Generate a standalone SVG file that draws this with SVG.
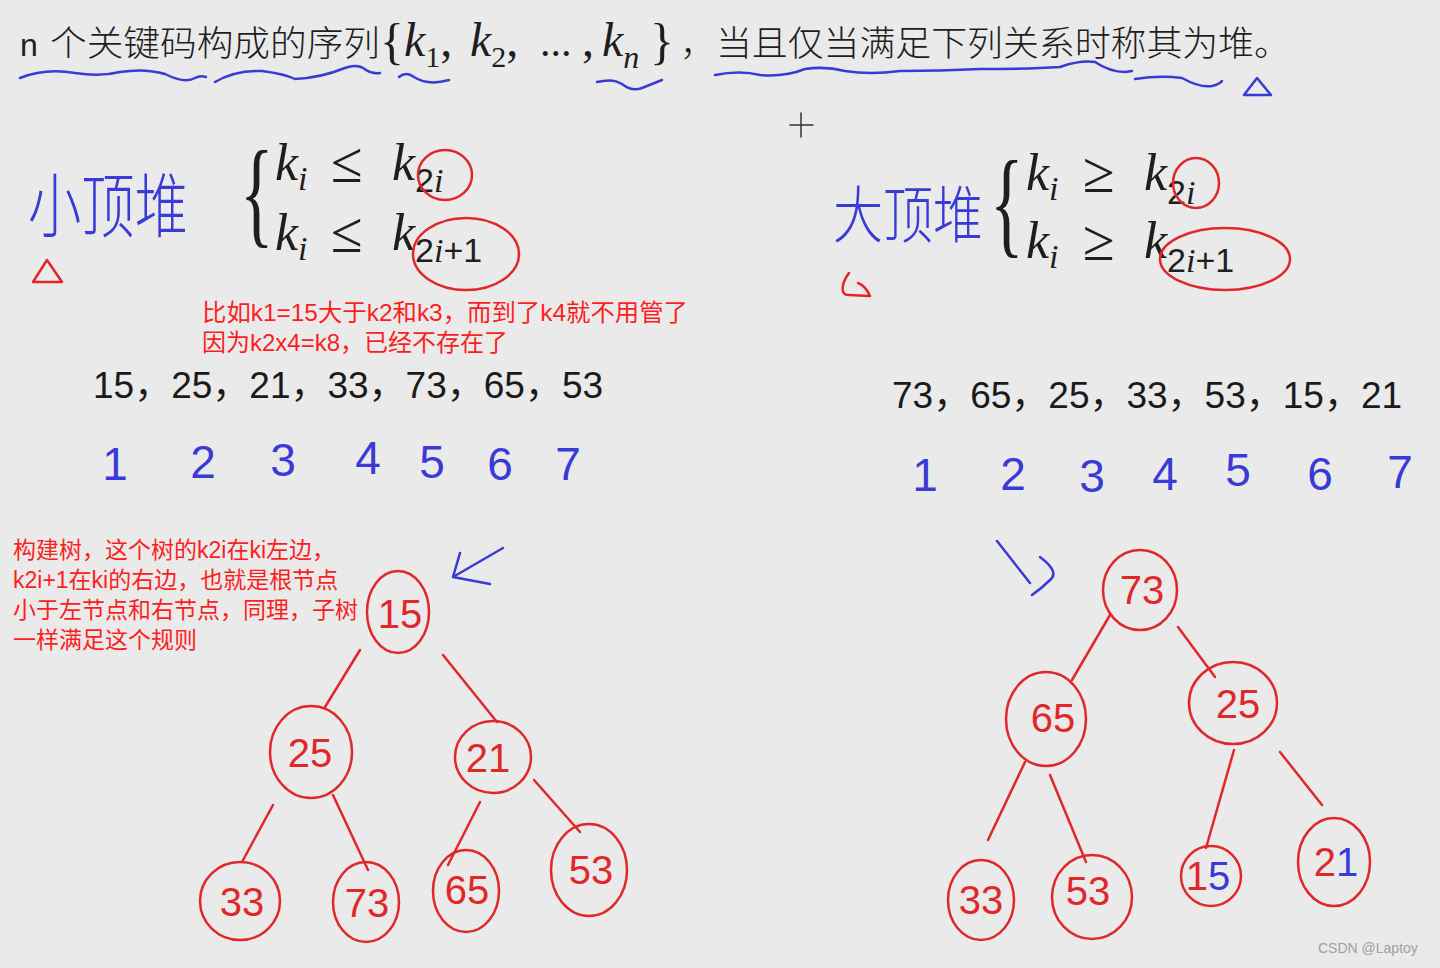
<svg xmlns="http://www.w3.org/2000/svg" width="1440" height="968" viewBox="0 0 1440 968">
<style>
.bg{fill:#eaeaea}
.cn{font-family:"Noto Sans CJK SC","Noto Sans",sans-serif;fill:#1e1e1e;font-weight:300}
.mi{font-family:"Liberation Serif","DejaVu Serif",serif;font-style:italic;fill:#1e1e1e}
.mr{font-family:"Liberation Serif","DejaVu Serif",serif;fill:#1e1e1e}
.sub{font-family:"Liberation Sans","Noto Sans",sans-serif;font-style:normal}
.sub2{font-family:"Liberation Serif","DejaVu Serif",serif;font-style:italic}
.sub3{font-family:"Liberation Serif","DejaVu Serif",serif;font-style:normal}
.seq{font-family:"Liberation Sans",Arial,"Noto Sans CJK SC",sans-serif;fill:#1a1a1a;font-size:37px}
.note{font-family:"Liberation Sans",Arial,"Noto Sans CJK SC",sans-serif;fill:#ff1e1e}
.hb{font-family:"Noto Sans CJK SC","Liberation Sans",sans-serif;fill:#3a3ad6;font-weight:300}
.hd{font-family:"Liberation Sans","Noto Sans",sans-serif;fill:#3a3ad6;font-size:46px;text-anchor:middle}
.bl{fill:none;stroke:#3a3ad6;stroke-width:2.5;stroke-linecap:round;stroke-linejoin:round}
.rl{fill:none;stroke:#e0282a;stroke-width:2.5;stroke-linecap:round;stroke-linejoin:round}
.node{fill:none;stroke:#e0282a;stroke-width:2.5}
.nl{font-family:"Liberation Sans","Noto Sans",sans-serif;fill:#e0282a;font-size:40px;text-anchor:middle}
.edge{fill:none;stroke:#e0282a;stroke-width:2.5;stroke-linecap:round}
</style>
<rect class="bg" x="0" y="0" width="1440" height="968"/>

<g id="title">
  <text class="sub" x="20" y="56" font-size="32" fill="#1e1e1e">n</text>
  <text class="cn" x="50" y="56" font-size="35" textLength="330" lengthAdjust="spacingAndGlyphs">个关键码构成的序列</text>
  <text class="mr" y="56" font-size="48"><tspan x="380" y="58" font-size="50">{</tspan><tspan x="404" y="56" class="sub2">k</tspan><tspan y="67" font-size="30">1</tspan><tspan y="56">,</tspan><tspan x="470" class="sub2">k</tspan><tspan y="67" font-size="30">2</tspan><tspan y="56">,</tspan><tspan x="540" font-size="42">...</tspan><tspan x="582" font-size="48">,</tspan><tspan x="602" class="sub2">k</tspan><tspan y="68" font-size="32" class="sub2">n</tspan><tspan x="650" y="58" font-size="50">}</tspan></text>
  <text class="cn" x="680" y="56" font-size="35" textLength="610" lengthAdjust="spacingAndGlyphs">，当且仅当满足下列关系时称其为堆。</text>
  <path class="bl" d="M20,78 Q45,68 75,73 Q100,77 120,72 Q145,68 165,74 Q185,84 195,78 Q200,75 206,77"/>
  <path class="bl" d="M215,82 Q235,70 262,71 Q285,74 295,79 Q320,78 345,68 Q358,63 366,70 Q372,74 380,73"/>
  <path class="bl" d="M399,77 Q406,71 414,77 Q428,86 449,80"/>
  <path class="bl" d="M597,82 Q613,78 622,84 Q632,92 642,88 Q652,84 662,80"/>
  <path class="bl" d="M715,75 Q740,70 760,75 Q785,77 805,69 Q825,66 845,71 Q870,75 900,71 Q940,71 980,69 Q1030,69 1060,67 Q1080,60 1095,62 Q1110,72 1125,72 L1132,71"/>
  <path class="bl" d="M1135,79 Q1160,75 1182,78 Q1200,88 1212,86 Q1220,84 1222,81"/>
  <path class="bl" d="M1257,78 L1244,95 L1271,95 Z"/>
</g>

<path class="bl" d="M790,125 L813,125 M801,113 L801,137" style="stroke:#333;stroke-width:1.5"/>

<g id="min-heap-formula">
  <text class="mr" font-size="70" transform="translate(240,232) scale(1,1.7)">{</text>
  <text class="mi" font-size="52"><tspan x="275" y="180">k</tspan><tspan y="190" font-size="34">i</tspan><tspan x="331" y="182" class="sub3" font-size="58">≤</tspan><tspan x="392" y="180">k</tspan><tspan y="192" class="sub" font-size="34">2</tspan><tspan font-size="34">i</tspan></text>
  <text class="mi" font-size="52"><tspan x="275" y="250">k</tspan><tspan y="260" font-size="34">i</tspan><tspan x="331" y="252" class="sub3" font-size="58">≤</tspan><tspan x="392" y="250">k</tspan><tspan y="262" class="sub" font-size="34">2</tspan><tspan font-size="34">i</tspan><tspan class="sub" font-size="34">+1</tspan></text>
  <ellipse class="rl" cx="445" cy="175" rx="27" ry="25"/>
  <ellipse class="rl" cx="466" cy="254" rx="53" ry="36"/>
  <text class="hb" x="28" y="232" font-size="70" textLength="160" lengthAdjust="spacingAndGlyphs">小顶堆</text>
  <path class="rl" d="M47,260 L33,282 L62,282 Z"/>
</g>

<g id="max-heap-formula">
  <text class="mr" font-size="70" transform="translate(990,242) scale(1,1.7)">{</text>
  <text class="mi" font-size="52"><tspan x="1026" y="190">k</tspan><tspan y="200" font-size="34">i</tspan><tspan x="1083" y="192" class="sub3" font-size="58">≥</tspan><tspan x="1144" y="190">k</tspan><tspan y="204" class="sub" font-size="34">2</tspan><tspan font-size="34">i</tspan></text>
  <text class="mi" font-size="52"><tspan x="1026" y="258">k</tspan><tspan y="268" font-size="34">i</tspan><tspan x="1083" y="260" class="sub3" font-size="58">≥</tspan><tspan x="1144" y="258">k</tspan><tspan y="272" class="sub" font-size="34">2</tspan><tspan font-size="34">i</tspan><tspan class="sub" font-size="34">+1</tspan></text>
  <ellipse class="rl" cx="1196" cy="183" rx="23" ry="25"/>
  <ellipse class="rl" cx="1225" cy="259" rx="65" ry="31"/>
  <text class="hb" font-size="50" transform="translate(833,238) scale(1,1.25)" textLength="150" lengthAdjust="spacingAndGlyphs">大顶堆</text>
  <path class="rl" d="M849,273 C841,284 840,296 849,295 L870,296 C867,289 863,285 858,283"/>
</g>

<g id="example-note">
  <text class="note" x="202" y="321" font-size="24" textLength="486" lengthAdjust="spacingAndGlyphs">比如k1=15大于k2和k3，而到了k4就不用管了</text>
  <text class="note" x="202" y="351" font-size="24">因为k2x4=k8，已经不存在了</text>
</g>

<g id="min-sequence">
  <text class="seq" x="93" y="398">15，25，21，33，73，65，53</text>
  <text class="hd" x="115" y="480">1</text>
  <text class="hd" x="203" y="478">2</text>
  <text class="hd" x="283" y="476">3</text>
  <text class="hd" x="368" y="474">4</text>
  <text class="hd" x="432" y="478">5</text>
  <text class="hd" x="500" y="480">6</text>
  <text class="hd" x="568" y="480">7</text>
</g>

<g id="max-sequence">
  <text class="seq" x="892" y="408">73，65，25，33，53，15，21</text>
  <text class="hd" x="925" y="491">1</text>
  <text class="hd" x="1013" y="490">2</text>
  <text class="hd" x="1092" y="492">3</text>
  <text class="hd" x="1165" y="490">4</text>
  <text class="hd" x="1238" y="486">5</text>
  <text class="hd" x="1320" y="490">6</text>
  <text class="hd" x="1400" y="488">7</text>
</g>

<g id="tree-note">
  <text class="note" x="13" y="558" font-size="23">构建树，这个树的k2i在ki左边，</text>
  <text class="note" x="13" y="588" font-size="23">k2i+1在ki的右边，也就是根节点</text>
  <text class="note" x="13" y="618" font-size="23">小于左节点和右节点，同理，子树</text>
  <text class="note" x="13" y="648" font-size="23">一样满足这个规则</text>
</g>

<g id="arrows">
  <path class="bl" d="M503,548 L453,577 M460,553 L453,577 L490,584"/>
  <path class="bl" d="M997,541 L1030,583 M1040,557 Q1060,572 1050,580 Q1042,588 1032,595"/>
</g>

<g id="connectors">
  <path class="edge" d="M360,650 L325,707"/>
  <path class="edge" d="M443,655 L497,722"/>
  <path class="edge" d="M273,805 L242,862"/>
  <path class="edge" d="M333,795 L368,870"/>
  <path class="edge" d="M480,802 L448,865"/>
  <path class="edge" d="M534,780 L580,832"/>
  <path class="edge" d="M1110,615 L1072,680"/>
  <path class="edge" d="M1178,627 L1215,677"/>
  <path class="edge" d="M1025,762 L988,840"/>
  <path class="edge" d="M1050,775 L1086,862"/>
  <path class="edge" d="M1234,750 L1206,848"/>
  <path class="edge" d="M1280,752 L1322,805"/>
</g>

<g id="min-15"><ellipse class="node" cx="398" cy="612" rx="31" ry="41"/><text class="nl" x="400" y="628" font-size="44">15</text></g>
<g id="min-25"><ellipse class="node" cx="311" cy="752" rx="41" ry="46"/><text class="nl" x="310" y="767">25</text></g>
<g id="min-21"><ellipse class="node" cx="493" cy="757" rx="38" ry="36"/><text class="nl" x="488" y="772">21</text></g>
<g id="min-33"><ellipse class="node" cx="240" cy="901" rx="40" ry="39"/><text class="nl" x="242" y="916">33</text></g>
<g id="min-73"><ellipse class="node" cx="366" cy="902" rx="33" ry="40"/><text class="nl" x="367" y="917">73</text></g>
<g id="min-65"><ellipse class="node" cx="466" cy="891" rx="33" ry="41"/><text class="nl" x="467" y="904">65</text></g>
<g id="min-53"><ellipse class="node" cx="589" cy="870" rx="38" ry="46"/><text class="nl" x="591" y="884">53</text></g>

<g id="max-73"><ellipse class="node" cx="1140" cy="590" rx="37" ry="40"/><text class="nl" x="1142" y="604">73</text></g>
<g id="max-65"><ellipse class="node" cx="1046" cy="719" rx="40" ry="47"/><text class="nl" x="1053" y="732">65</text></g>
<g id="max-25"><ellipse class="node" cx="1233" cy="703" rx="44" ry="41"/><text class="nl" x="1238" y="718">25</text></g>
<g id="max-33"><ellipse class="node" cx="981" cy="900" rx="33" ry="40"/><text class="nl" x="981" y="914">33</text></g>
<g id="max-53"><ellipse class="node" cx="1092" cy="897" rx="40" ry="42"/><text class="nl" x="1088" y="905">53</text></g>
<g id="max-15"><ellipse class="node" cx="1211" cy="876" rx="30" ry="30"/><text class="nl" x="1208" y="890" font-size="34">1<tspan fill="#3a3ad6">5</tspan></text></g>
<g id="max-21"><ellipse class="node" cx="1334" cy="862" rx="36" ry="44"/><text class="nl" x="1336" y="876" font-size="38">2<tspan fill="#3a3ad6">1</tspan></text></g>

<text x="1318" y="953" font-family="Liberation Sans,Arial,sans-serif" font-size="14" fill="#a0a0a0">CSDN @Laptoy</text>
</svg>
